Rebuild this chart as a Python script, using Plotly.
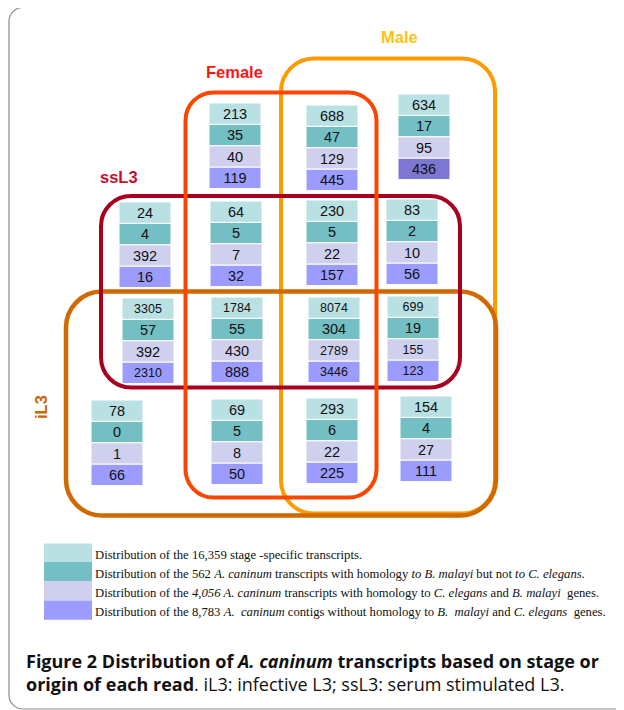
import plotly.graph_objects as go

# ---------------- data ----------------
groups = ["Female", "Female∩Male", "Male", "ssL3", "ssL3∩Female", "ssL3∩Female∩Male",
          "ssL3∩Male", "ssL3∩iL3", "ssL3∩iL3∩Female", "ssL3∩iL3∩Female∩Male",
          "ssL3∩iL3∩Male", "iL3", "iL3∩Female", "iL3∩Female∩Male", "iL3∩Male"]
stage_specific = [213, 688, 634, 24, 64, 230, 83, 3305, 1784, 8074, 699, 78, 69, 293, 154]
bmalayi_only = [35, 47, 17, 4, 5, 5, 2, 57, 55, 304, 19, 0, 5, 6, 4]
ce_and_bm = [40, 129, 95, 392, 7, 22, 10, 392, 430, 2789, 155, 1, 8, 22, 27]
no_homology = [119, 445, 436, 16, 32, 157, 56, 2310, 888, 3446, 123, 66, 50, 225, 111]
tiers = [stage_specific, bmalayi_only, ce_and_bm, no_homology]

legend_texts = [
    "Distribution of the 16,359 stage -specific transcripts.",
    "Distribution of the 562 <i>A. caninum</i> transcripts with homology <i>to B. malayi</i> but not <i>to C. elegans.</i>",
    "Distribution of the <i>4,056 A. caninum</i> transcripts with homology to <i>C. elegans</i> and <i>B. malayi</i>  genes.",
    "Distribution of the 8,783 <i>A.  caninum</i> contigs without homology to <i>B.  malayi</i> and <i>C. elegans</i>  genes.",
]
caption = ("<b>Figure 2 Distribution of <i>A. caninum</i> transcripts based on stage or</b><br>"
           "<b>origin of each read</b>. iL3: infective L3; ssL3: serum stimulated L3.")

# ---------------- layout (positions / styles) ----------------
# the page body has an 8px margin: map data coords straight onto window pixels
OFF = 8
W, H = 624, 710
cell_left = [209, 306, 398, 119, 210, 306, 386, 122, 211, 308, 387, 91, 211, 306, 400]
cell_top = [103, 105, 94, 202, 201, 200, 199, 298, 297, 297, 296, 400, 399, 398, 396]
cell_w, cell_h = 52, 21.4
tier_colors = ["#B9E0E3", "#73BFC4", "#CFCFEE", "#9C9CFF"]
dark_cell = "#7B77D3"
small_groups = {"3305", "2310", "1784", "8074", "2789", "3446", "699", "155", "123"}


def rrect(x0, y0, x1, y1, r):
    k = 0.5523 * r
    return (f"M{x0+r},{y0} L{x1-r},{y0} C{x1-r+k},{y0} {x1},{y0+r-k} {x1},{y0+r} "
            f"L{x1},{y1-r} C{x1},{y1-r+k} {x1-r+k},{y1} {x1-r},{y1} "
            f"L{x0+r},{y1} C{x0+r-k},{y1} {x0},{y1-r+k} {x0},{y1-r} "
            f"L{x0},{y0+r} C{x0},{y0+r-k} {x0+r-k},{y0} {x0+r},{y0} Z")


fig = go.Figure()
centers = [l + cell_w / 2 for l in cell_left]
for t, vals in enumerate(tiers):
    colors = [tier_colors[t]] * len(vals)
    if t == 3:
        colors[groups.index("Male")] = dark_cell
    sizes = [12.5 if str(v) in small_groups else 14.5 for v in vals]
    fig.add_trace(go.Bar(
        x=centers, y=[cell_h] * len(vals), base=[tp + t * cell_h for tp in cell_top],
        width=[cell_w] * len(vals), text=[str(v) for v in vals],
        textposition="inside", insidetextanchor="middle", textangle=0,
        constraintext="none",
        textfont=dict(family="Liberation Sans, Arial", size=sizes, color="#111"),
        marker=dict(color=colors, line=dict(color="white", width=1)),
        hoverinfo="skip", showlegend=False, cliponaxis=False))

shapes = []
# card border
shapes.append(dict(type="path", path=rrect(9, 7.5, 660, 709, 14),
                   line=dict(color="#8C8C8C", width=1.2), layer="below"))
# venn boxes (bottom to top)
boxes = [
    ((281, 58.5, 495, 513.5, 33), "#FF9A00", 4),      # Male
    ((66, 291.5, 496, 515.5, 36), "#D06A00", 4.5),    # iL3
    ((101, 196, 460, 387.5, 30), "#A8001E", 4),       # ssL3
    ((185.5, 92.5, 376.5, 497.5, 28), "#FA4600", 4),  # Female
]
for (x0, y0, x1, y1, r), c, w in boxes:
    shapes.append(dict(type="path", path=rrect(x0, y0, x1, y1, r),
                       line=dict(color=c, width=w), layer="above"))

# legend swatches
sw_top = [543.5, 562, 581, 600.5]
sw_h = 19.3
for i, c in enumerate(tier_colors):
    shapes.append(dict(type="rect", x0=44, x1=92, y0=sw_top[i], y1=sw_top[i] + sw_h,
                       fillcolor=c, line=dict(width=0), layer="below"))

annotations = []
labels = [("Male", 399, 37, "#FFC20E", 0), ("Female", 234, 72, "#FF1414", 0),
          ("ssL3", 119, 176.5, "#C8102E", 0), ("iL3", 41, 407, "#CC6600", -90)]
for txt, x, y, c, ang in labels:
    annotations.append(dict(text=txt, x=x, y=y, xref="x", yref="y", showarrow=False,
                            xanchor="center", yanchor="middle", textangle=ang,
                            font=dict(family="Liberation Sans, Arial", size=16.5,
                                      color=c, weight="bold")))
for i, txt in enumerate(legend_texts):
    annotations.append(dict(text=txt, x=93, y=sw_top[i] + 11.5, xref="x", yref="y",
                            showarrow=False, xanchor="left", yanchor="middle",
                            font=dict(family="Liberation Serif, Times New Roman",
                                      size=12.7, color="#111")))
annotations.append(dict(text=caption, x=24, y=672, xref="x", yref="y", showarrow=False,
                        xanchor="left", yanchor="middle", align="left",
                        font=dict(family="Open Sans", size=18, color="#111")))

fig.update_layout(
    width=W - OFF, height=H - OFF, margin=dict(l=0, r=0, t=0, b=0),
    paper_bgcolor="white", plot_bgcolor="white", barmode="overlay",
    xaxis=dict(range=[OFF, W], visible=False, fixedrange=True),
    yaxis=dict(range=[H, OFF], visible=False, fixedrange=True),
    shapes=shapes, annotations=annotations, showlegend=False,
)
fig.write_html("out.html")
